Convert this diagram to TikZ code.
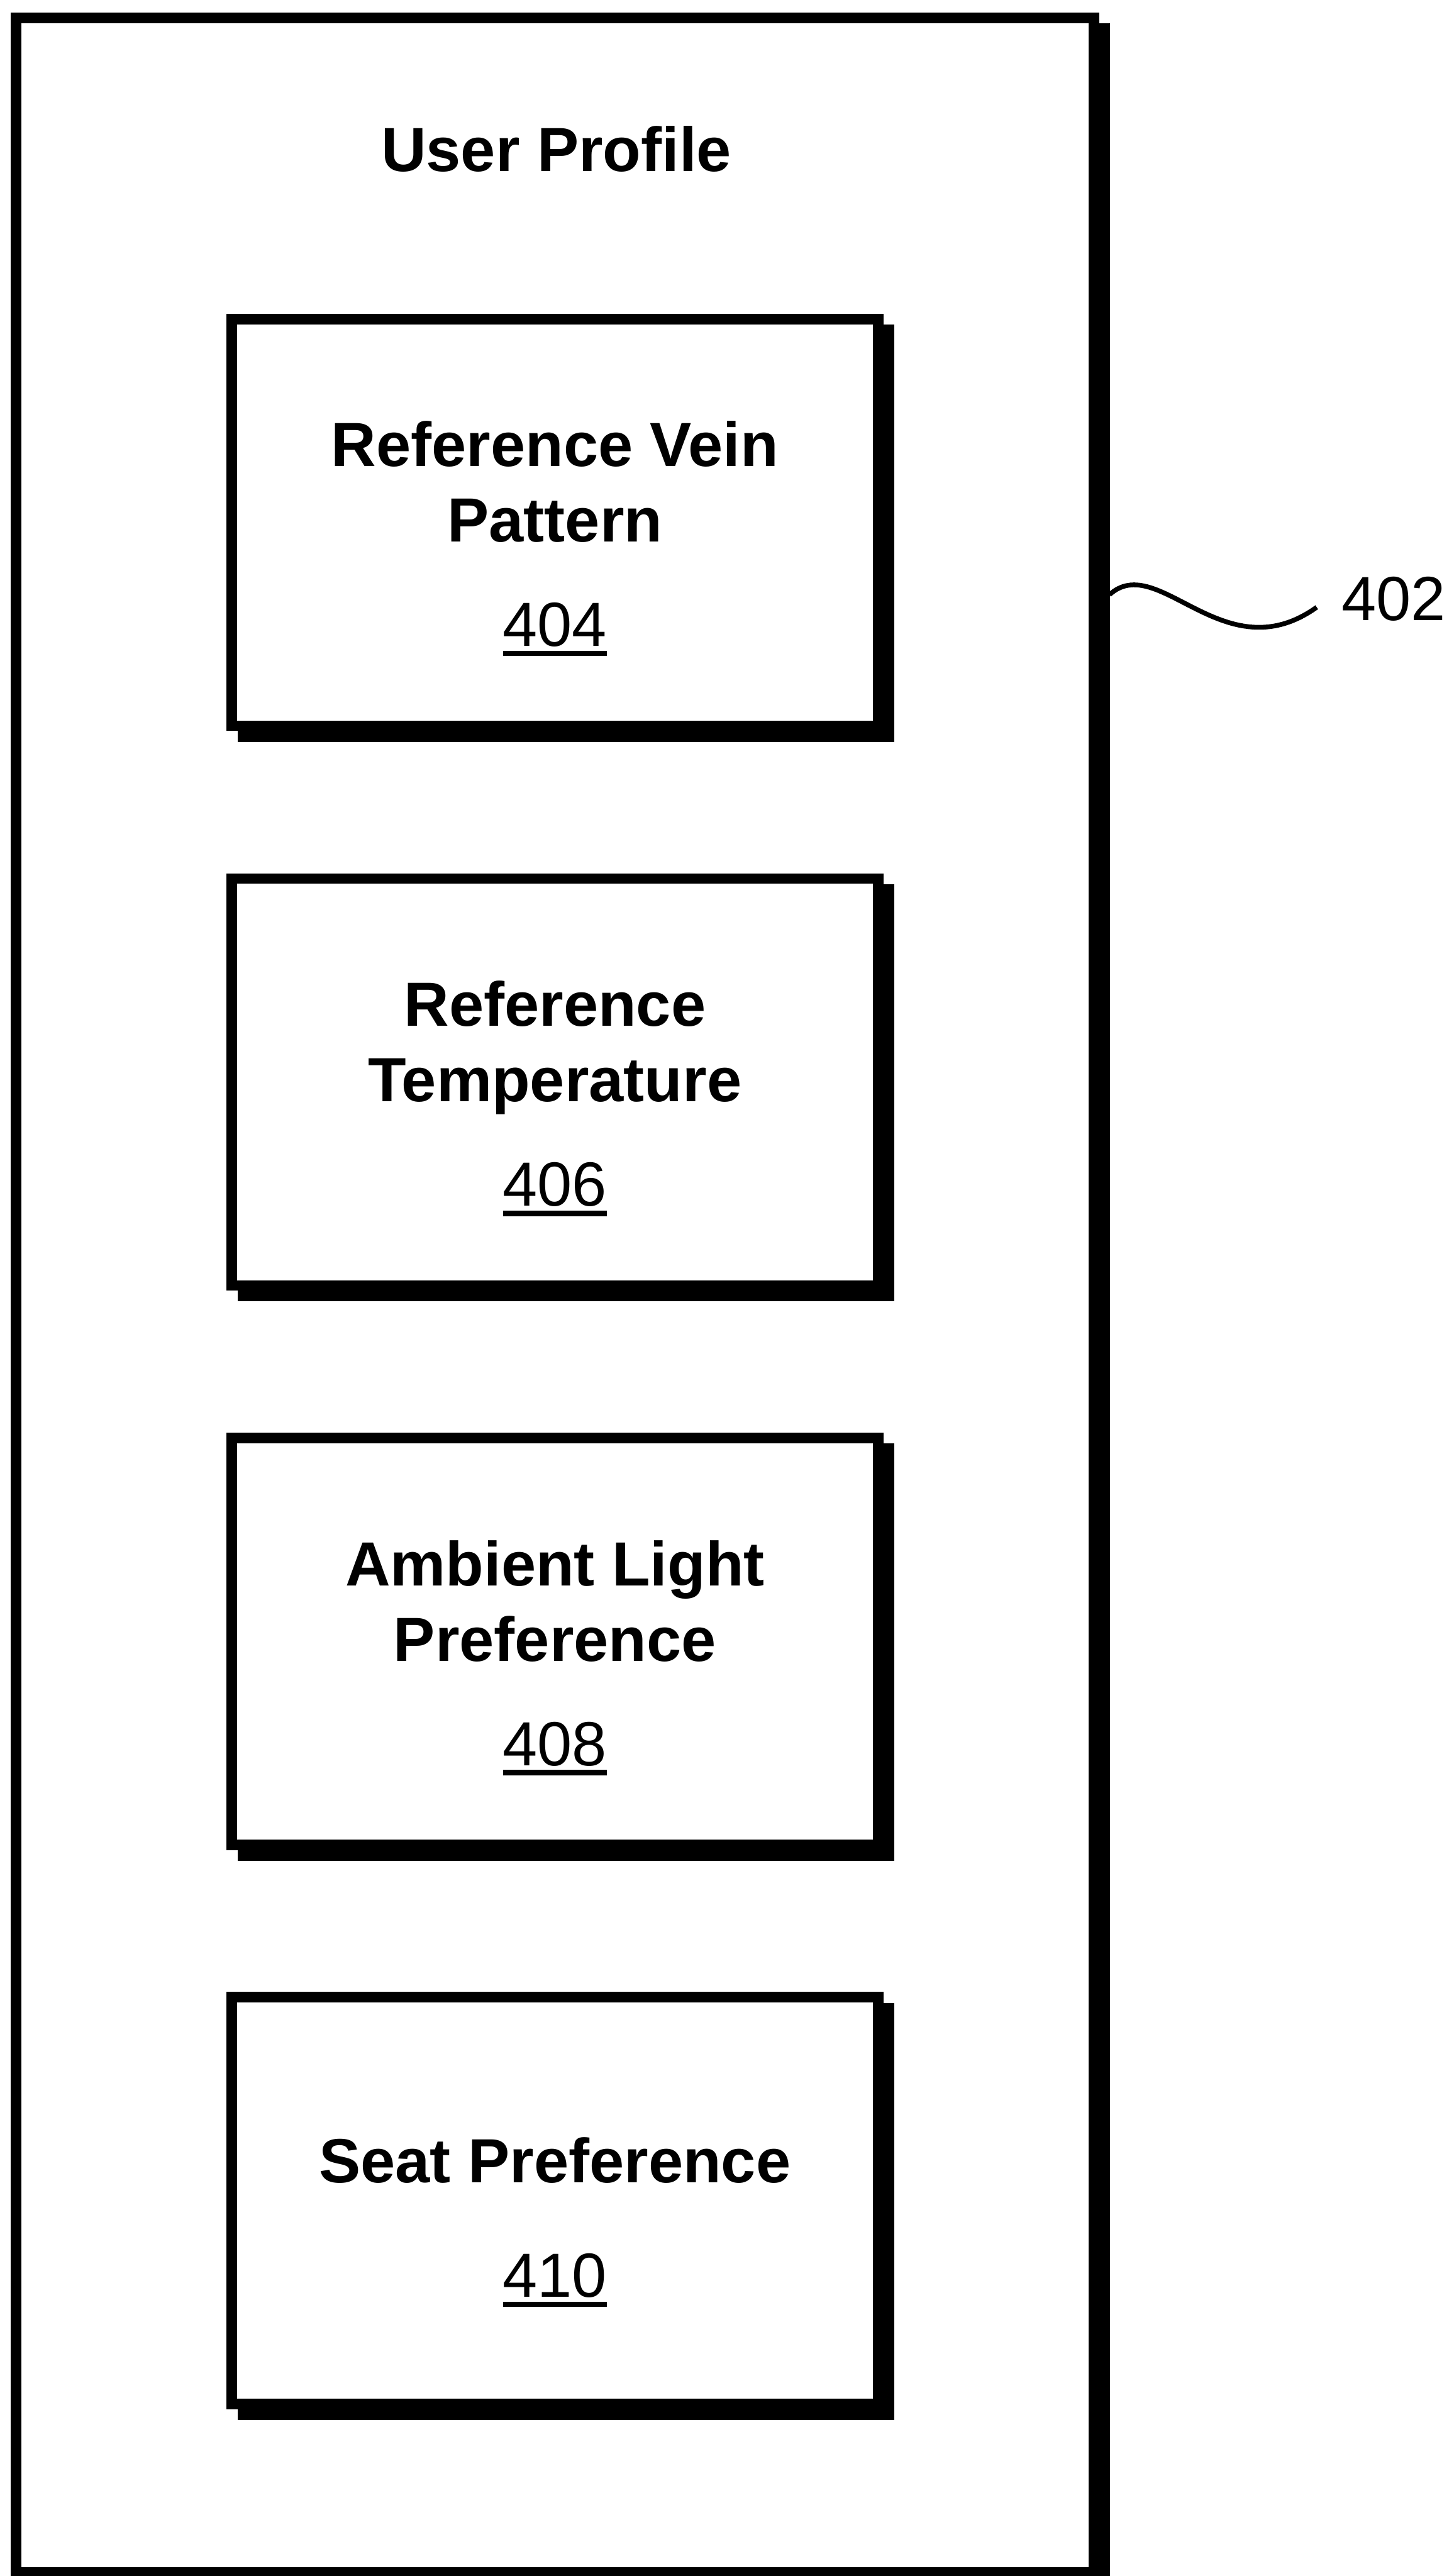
\documentclass[tikz,border=0pt]{standalone}
\usepackage{fontspec}
\setmainfont{Liberation Sans}
\usetikzlibrary{shadows}

% underlined reference numeral
\newcommand{\refnum}[1]{\setbox0\hbox{#1}\rlap{\rule[-1.7pt]{\wd0}{0.94pt}}\box0}

\tikzset{
  prefbox/.style={draw, line width=1.8pt, fill=white,
    copy shadow={shadow xshift=1.88pt, shadow yshift=-1.88pt, draw=black, fill=black, line width=1.8pt}},
  itembox/.style={prefbox, minimum width=3.932cm, minimum height=2.475cm},
  boxtext/.style={align=center, anchor=base, inner sep=0pt,
    font=\fontsize{10.8}{13.03}\selectfont\bfseries},
  numtext/.style={anchor=base west, inner sep=0pt, font=\fontsize{10.8}{13.03}\selectfont},
}

\begin{document}
\begin{tikzpicture}[x=0.01cm, y=-0.01cm]
  \useasboundingbox (0,0) rectangle (885,1568);

  % Profile (outer box)
  \node[prefbox, minimum width=6.559cm, minimum height=15.539cm] (profile) at (337.85,788.25) {};
  \node[boxtext] (profile-t) at (338.6,104.4) {User Profile};

  % Entries of the profile
  \node[itembox] (vein)  at (337.8,318.0)  {};
  \node[itembox] (temp)  at (337.8,658.6)  {};
  \node[itembox] (light) at (337.8,999.1)  {};
  \node[itembox] (seat)  at (337.8,1339.5) {};

  \node[boxtext] (vein-t)  at (337.8,393.4)  {Reference Vein\\Pattern\\[5.07pt]\mdseries\refnum{404}};
  \node[boxtext] (temp-t)  at (337.8,734.2)  {Reference\\Temperature\\[5.07pt]\mdseries\refnum{406}};
  \node[boxtext] (light-t) at (337.8,1074.7) {Ambient Light\\Preference\\[5.07pt]\mdseries\refnum{408}};
  \node[boxtext] (seat-t)  at (337.8,1398.3) {Seat Preference\\[6.77pt]\mdseries\refnum{410}};

  % Reference numeral of the profile
  \coordinate (wave-a) at (675.3,362);
  \coordinate (wave-b) at (801.5,369.6);
  \node[numtext] (profile-n) at (816,377.8) {402};
  \draw[line width=0.82pt] (wave-a) .. controls (705,335) and (745,410) .. (wave-b);
\end{tikzpicture}
\end{document}
